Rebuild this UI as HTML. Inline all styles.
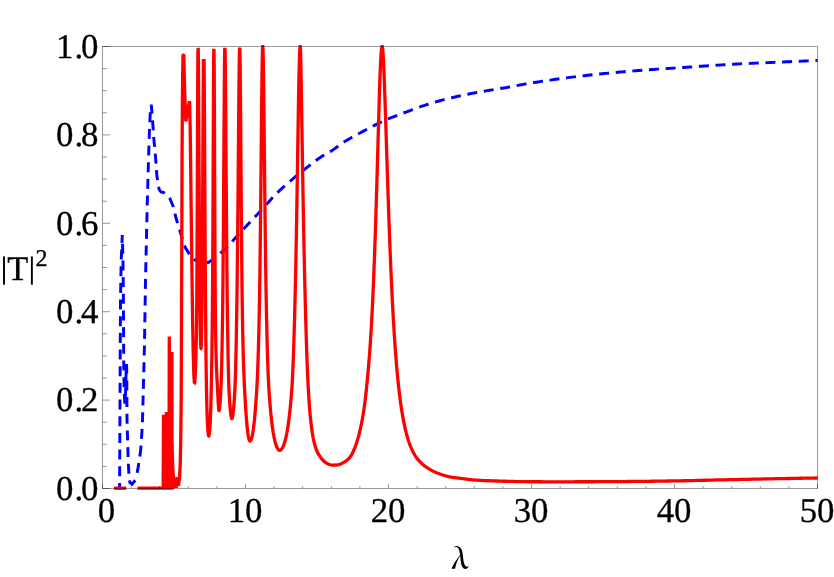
<!DOCTYPE html>
<html><head><meta charset="utf-8">
<style>
html,body{margin:0;padding:0;background:#fff;}
body{width:834px;height:577px;overflow:hidden;font-family:"Liberation Serif",serif;}
svg{display:block;will-change:transform;}
text{font-family:"Liberation Serif",serif;fill:#000;text-rendering:geometricPrecision;stroke:#000;stroke-width:0.3px;}
</style></head><body>
<svg width="834" height="577" viewBox="0 0 834 577">
<rect width="834" height="577" fill="#fff"/>
<g fill="none" stroke="#0000ff" stroke-width="2.95" stroke-linejoin="miter" stroke-miterlimit="3.25" stroke-dasharray="10 6.67">
<path d="M817.50,60.45 L816.00,60.51 L814.00,60.60 L812.00,60.69 L810.00,60.78 L808.00,60.86 L806.00,60.95 L804.00,61.04 L802.00,61.13 L800.00,61.22 L798.00,61.30 L796.00,61.39 L794.00,61.48 L792.00,61.57 L790.00,61.66 L788.00,61.75 L786.00,61.84 L784.00,61.93 L782.00,62.02 L780.00,62.10 L778.00,62.19 L776.00,62.28 L774.00,62.36 L772.00,62.45 L770.00,62.53 L768.00,62.62 L766.00,62.70 L764.00,62.79 L762.00,62.87 L760.00,62.96 L758.00,63.04 L756.00,63.13 L754.00,63.22 L752.00,63.31 L750.00,63.40 L748.00,63.49 L746.00,63.58 L744.00,63.67 L742.00,63.77 L740.00,63.87 L738.00,63.97 L736.00,64.07 L734.00,64.18 L732.00,64.28 L730.00,64.40 L728.00,64.51 L726.00,64.63 L724.00,64.75 L722.00,64.87 L720.00,64.99 L718.00,65.12 L716.00,65.25 L714.00,65.38 L712.00,65.52 L710.00,65.65 L708.00,65.79 L706.00,65.92 L704.00,66.06 L702.00,66.20 L700.00,66.34 L698.00,66.48 L696.00,66.61 L694.00,66.75 L692.00,66.89 L690.00,67.03 L688.00,67.17 L686.00,67.30 L684.00,67.44 L682.00,67.57 L680.00,67.71 L678.00,67.84 L676.00,67.97 L674.00,68.10 L672.00,68.23 L670.00,68.36 L668.00,68.49 L666.00,68.62 L664.00,68.75 L662.00,68.88 L660.00,69.02 L658.00,69.15 L656.00,69.28 L654.00,69.42 L652.00,69.55 L650.00,69.69 L648.00,69.83 L646.00,69.97 L644.00,70.11 L642.00,70.26 L640.00,70.41 L638.00,70.56 L636.00,70.71 L634.00,70.87 L632.00,71.02 L630.00,71.19 L628.00,71.35 L626.00,71.52 L624.00,71.69 L622.00,71.87 L620.00,72.04 L618.00,72.22 L616.00,72.41 L614.00,72.59 L612.00,72.78 L610.00,72.98 L608.00,73.17 L606.00,73.37 L604.00,73.57 L602.00,73.77 L600.00,73.98 L598.00,74.18 L596.00,74.40 L594.00,74.61 L592.00,74.83 L590.00,75.05 L588.00,75.27 L586.00,75.49 L584.00,75.72 L582.00,75.95 L580.00,76.18 L578.00,76.42 L576.00,76.66 L574.00,76.90 L572.00,77.15 L570.00,77.40 L568.00,77.66 L566.00,77.92 L564.00,78.18 L562.00,78.45 L560.00,78.72 L558.00,78.99 L556.00,79.27 L554.00,79.55 L552.00,79.84 L550.00,80.13 L548.00,80.42 L546.00,80.72 L544.00,81.02 L542.00,81.32 L540.00,81.63 L538.00,81.94 L536.00,82.25 L534.00,82.57 L532.00,82.89 L530.00,83.21 L528.00,83.54 L526.00,83.89 L524.00,84.26 L522.00,84.63 L520.00,85.01 L518.00,85.40 L516.00,85.78 L514.00,86.17 L512.00,86.55 L510.00,86.92 L508.00,87.28 L506.00,87.62 L504.00,87.96 L502.00,88.29 L500.00,88.61 L498.00,88.93 L496.00,89.24 L494.00,89.56 L492.00,89.88 L490.00,90.20 L488.00,90.53 L486.00,90.86 L484.00,91.21 L482.00,91.56 L480.00,91.93 L478.00,92.29 L476.00,92.66 L474.00,93.04 L472.00,93.42 L470.00,93.81 L468.00,94.21 L466.00,94.61 L464.00,95.02 L462.00,95.44 L460.00,95.87 L458.00,96.31 L456.00,96.76 L454.00,97.22 L452.00,97.69 L450.00,98.17 L448.00,98.66 L446.00,99.16 L444.00,99.67 L442.00,100.19 L440.00,100.72 L438.00,101.27 L436.00,101.83 L434.00,102.40 L432.00,102.98 L430.00,103.59 L428.00,104.22 L426.00,104.86 L424.00,105.53 L422.00,106.21 L420.00,106.91 L418.00,107.62 L416.00,108.33 L414.00,109.06 L412.00,109.79 L410.00,110.53 L408.00,111.27 L406.00,112.01 L404.00,112.75 L402.00,113.50 L400.00,114.25 L398.00,115.01 L396.00,115.78 L394.00,116.56 L392.00,117.36 L390.00,118.17 L388.00,119.00 L386.00,119.86 L384.00,120.73 L382.00,121.63 L380.00,122.57 L378.00,123.55 L376.00,124.57 L374.00,125.61 L372.00,126.67 L370.00,127.72 L368.00,128.76 L366.00,129.81 L364.00,130.85 L362.00,131.90 L360.00,132.95 L358.00,134.02 L356.00,135.10 L354.00,136.20 L352.00,137.32 L350.00,138.47 L348.00,139.64 L346.00,140.85 L344.00,142.10 L342.00,143.45 L340.00,144.86 L338.00,146.30 L336.00,147.74 L334.00,149.13 L332.00,150.45 L330.00,151.67 L328.00,152.84 L326.00,153.99 L324.00,155.15 L322.00,156.35 L320.00,157.64 L318.00,159.04 L316.00,160.51 L314.00,162.04 L312.00,163.60 L310.00,165.16 L308.00,166.70 L306.00,168.25 L304.00,169.82 L302.00,171.40 L300.00,172.99 L298.00,174.61 L296.00,176.26 L294.00,177.93 L292.00,179.61 L290.00,181.30 L288.00,183.01 L286.00,184.74 L284.00,186.51 L282.00,188.32 L280.00,190.17 L278.00,192.07 L276.00,194.05 L274.00,196.12 L272.00,198.26 L270.00,200.46 L268.00,202.69 L266.00,204.93 L264.00,207.17 L262.00,209.39 L260.00,211.57 L258.00,213.71 L256.00,215.84 L254.00,217.96 L252.00,220.08 L250.00,222.20 L248.00,224.31 L246.00,226.42 L244.00,228.54 L242.00,230.66 L240.00,232.83 L238.00,235.03 L236.00,237.26 L234.00,239.49 L232.00,241.70 L230.00,243.87 L228.00,245.98 L226.00,248.02 L224.00,249.96 L222.00,251.79 L220.00,253.54 L218.00,255.23 L216.00,256.85 L214.00,258.41 L212.00,259.91 L210.00,261.34 L208.75,262.20 L201.25,263.00" stroke-dashoffset="7.90"/><path d="M201.25,263.00 L195.00,260.00 L190.00,255.00 L185.00,247.00 L181.00,234.50 L176.25,218.75 L173.00,206.00 L170.00,198.75 L167.00,194.50 L164.40,192.80 L162.50,192.30 L161.00,192.00 L159.20,189.50 L158.00,184.00 L156.90,175.75 L155.60,158.00 L153.75,137.60 L152.20,115.00 L151.25,104.70 L150.30,112.00 L149.40,132.00 L148.50,160.00 L147.25,204.00 L145.60,276.00 L144.40,348.00 L142.50,420.00 L141.90,432.50 L140.60,451.00" stroke-dashoffset="1.61"/><path d="M140.60,451.00 L138.10,467.50 L135.90,479.40" stroke-dashoffset="4.50"/><path d="M135.90,479.40 L132.00,484.20 L130.00,482.60 L129.30,480.00 L128.90,474.00 L128.20,460.00 L127.00,420.00 L126.80,380.00 L126.60,364.00 L126.10,372.00 L125.60,392.00 L124.90,404.00 L124.20,392.00 L123.70,360.00 L123.40,300.00 L123.00,262.00 L122.30,235.00 L121.15,262.00 L120.50,300.00 L120.00,400.00 L119.60,488.30" stroke-dashoffset="15.62"/>
</g>
<g fill="none" stroke="#ff0000" stroke-width="3.3" stroke-linejoin="miter" stroke-miterlimit="3.25" stroke-linecap="butt">
<path d="M114.00,488.20 L126.30,488.20"/><path d="M137.50,488.20 L163.20,488.20 L163.50,414.80 L163.80,488.20 L166.10,488.20 L166.40,412.10 L166.70,488.20 L169.00,488.20 L169.30,336.50 L169.60,488.20 L171.95,488.20 L171.90,351.90 L172.00,440.00 L172.40,458.00 L172.90,470.00 L173.60,480.00 L174.50,486.50 L176.50,486.20 L176.95,477.00 L177.40,484.50 L178.60,484.40 L179.55,478.00 L180.15,466.00 L180.65,445.00 L181.20,400.00 L181.50,320.00 L181.80,240.00 L182.10,150.00 L182.40,100.00 L182.75,70.00 L182.90,61.00 L182.95,55.65 L182.99,55.46 L183.11,55.31 L183.28,55.22 L183.48,55.21 L183.66,55.28 L183.79,55.42 L183.85,55.61 L183.95,61.00 L184.15,70.00 L184.50,85.00 L185.20,105.00 L185.80,121.50 L189.35,101.30 L189.60,102.50 L190.20,128.00 L191.10,204.00 L192.00,276.00 L192.60,320.00 L193.20,352.00 L193.80,374.00 L194.40,383.50 L194.41,383.48 L194.42,383.48 L194.43,383.47 L194.44,383.46 L194.46,383.43 L194.49,383.38 L194.54,383.23 L194.68,382.49 L195.04,378.46 L195.27,374.32 L195.45,370.23 L195.61,365.95 L195.75,361.70 L195.87,357.68 L195.98,353.68 L196.09,349.37 L196.19,345.20 L196.29,340.77 L196.38,336.50 L196.45,332.31 L196.51,327.92 L196.56,323.68 L196.61,318.90 L196.65,314.67 L196.69,310.07 L196.73,305.08 L196.77,299.70 L196.80,295.40 L196.83,290.87 L196.86,286.10 L196.89,281.09 L196.92,275.84 L196.95,270.34 L196.98,264.60 L197.01,258.60 L197.03,254.47 L197.05,250.23 L197.07,245.88 L197.09,241.43 L197.11,236.87 L197.13,232.21 L197.15,227.45 L197.17,222.59 L197.19,217.64 L197.21,212.60 L197.23,207.48 L197.25,202.29 L197.27,197.02 L197.29,191.69 L197.31,186.30 L197.33,180.86 L197.35,175.39 L197.37,169.88 L197.39,164.36 L197.41,158.82 L197.43,153.29 L197.45,147.78 L197.47,142.30 L197.49,136.85 L197.51,131.47 L197.53,126.15 L197.55,120.91 L197.57,115.77 L197.59,110.74 L197.61,105.83 L197.63,101.06 L197.65,96.44 L197.67,91.99 L197.69,87.70 L197.71,83.61 L197.74,77.83 L197.77,72.52 L197.80,67.69 L197.83,63.38 L197.87,58.42 L197.91,54.38 L197.97,49.99 L197.98,49.44 L197.99,49.42 L198.22,49.42 L198.30,53.76 L198.35,57.86 L198.40,62.82 L198.44,67.39 L198.48,72.46 L198.51,76.57 L198.54,80.93 L198.57,85.51 L198.60,90.30 L198.63,95.28 L198.66,100.44 L198.69,105.75 L198.72,111.19 L198.75,116.75 L198.78,122.41 L198.81,128.15 L198.84,133.95 L198.87,139.79 L198.90,145.67 L198.93,151.55 L198.96,157.43 L198.99,163.30 L199.02,169.14 L199.05,174.94 L199.08,180.69 L199.11,186.38 L199.14,192.00 L199.17,197.54 L199.20,203.00 L199.23,208.37 L199.26,213.65 L199.29,218.82 L199.32,223.89 L199.35,228.85 L199.38,233.70 L199.41,238.44 L199.44,243.06 L199.47,247.57 L199.50,251.96 L199.53,256.24 L199.56,260.40 L199.59,264.44 L199.63,269.65 L199.67,274.65 L199.71,279.46 L199.75,284.06 L199.79,288.47 L199.83,292.69 L199.87,296.73 L199.92,301.51 L199.97,306.02 L200.02,310.25 L200.08,314.99 L200.14,319.37 L200.20,323.40 L200.27,327.68 L200.35,332.04 L200.44,336.28 L200.55,340.57 L200.69,344.66 L200.92,348.13 L200.96,348.32 L200.98,348.37 L200.99,348.38 L201.00,348.39 L201.01,348.38 L201.02,348.37 L201.04,348.31 L201.10,347.89 L201.31,343.72 L201.43,339.45 L201.52,335.33 L201.60,330.98 L201.67,326.61 L201.73,322.45 L201.79,317.88 L201.84,313.75 L201.89,309.31 L201.94,304.57 L201.98,300.54 L202.02,296.30 L202.06,291.85 L202.10,287.17 L202.14,282.28 L202.18,277.16 L202.22,271.81 L202.25,267.65 L202.28,263.35 L202.31,258.93 L202.34,254.37 L202.37,249.69 L202.40,244.88 L202.43,239.94 L202.46,234.87 L202.49,229.69 L202.52,224.38 L202.55,218.96 L202.58,213.44 L202.61,207.81 L202.64,202.08 L202.67,196.27 L202.70,190.38 L202.73,184.41 L202.75,180.40 L202.77,176.37 L202.79,172.32 L202.81,168.26 L202.83,164.18 L202.85,160.10 L202.87,156.01 L202.89,151.93 L202.91,147.85 L202.93,143.79 L202.95,139.74 L202.97,135.72 L203.00,129.73 L203.03,123.83 L203.06,118.03 L203.09,112.35 L203.12,106.81 L203.15,101.42 L203.18,96.21 L203.21,91.20 L203.24,86.40 L203.27,81.82 L203.30,77.49 L203.33,73.42 L203.37,68.41 L203.41,63.90 L203.45,60.64 L204.06,60.64 L204.11,64.71 L204.15,69.05 L204.19,73.82 L204.23,79.01 L204.26,83.16 L204.29,87.53 L204.32,92.09 L204.35,96.84 L204.38,101.77 L204.41,106.86 L204.44,112.09 L204.47,117.46 L204.50,122.96 L204.53,128.55 L204.56,134.24 L204.59,140.00 L204.62,145.83 L204.65,151.71 L204.68,157.63 L204.71,163.57 L204.74,169.52 L204.77,175.48 L204.80,181.42 L204.83,187.35 L204.86,193.24 L204.89,199.10 L204.92,204.91 L204.95,210.66 L204.98,216.35 L205.01,221.98 L205.04,227.53 L205.07,233.00 L205.10,238.39 L205.13,243.70 L205.16,248.91 L205.19,254.03 L205.22,259.05 L205.25,263.98 L205.28,268.80 L205.31,273.53 L205.34,278.15 L205.37,282.68 L205.40,287.10 L205.43,291.42 L205.46,295.64 L205.49,299.75 L205.52,303.77 L205.56,308.97 L205.60,314.00 L205.64,318.86 L205.68,323.56 L205.72,328.08 L205.76,332.45 L205.80,336.67 L205.84,340.73 L205.89,345.61 L205.94,350.26 L205.99,354.70 L206.04,358.94 L206.09,362.99 L206.15,367.60 L206.21,371.95 L206.27,376.06 L206.34,380.57 L206.41,384.79 L206.49,389.29 L206.57,393.45 L206.66,397.77 L206.76,402.15 L206.87,406.52 L206.99,410.78 L207.12,414.87 L207.27,419.00 L207.45,423.19 L207.67,427.35 L207.96,431.45 L208.42,435.20 L208.55,435.70 L208.61,435.85 L208.65,435.92 L208.68,435.95 L208.70,435.97 L208.72,435.98 L208.73,435.99 L208.74,435.99 L208.75,435.99 L208.76,435.99 L208.77,435.99 L208.79,435.98 L208.81,435.97 L208.83,435.95 L208.86,435.91 L208.90,435.84 L208.97,435.68 L209.12,435.12 L209.63,431.10 L209.94,426.97 L210.17,422.96 L210.37,418.74 L210.54,414.54 L210.69,410.33 L210.82,406.26 L210.94,402.13 L211.05,398.00 L211.15,393.94 L211.25,389.57 L211.34,385.37 L211.43,380.90 L211.51,376.68 L211.59,372.23 L211.66,368.14 L211.73,363.86 L211.80,359.39 L211.87,354.73 L211.93,350.57 L211.99,346.27 L212.05,341.82 L212.11,337.22 L212.16,333.13 L212.21,328.72 L212.26,323.97 L212.30,319.92 L212.34,315.63 L212.38,311.10 L212.42,306.31 L212.46,301.27 L212.50,295.96 L212.53,291.79 L212.56,287.47 L212.59,282.99 L212.62,278.34 L212.65,273.52 L212.68,268.54 L212.71,263.39 L212.74,258.06 L212.77,252.57 L212.80,246.91 L212.83,241.07 L212.86,235.07 L212.88,230.98 L212.90,226.82 L212.92,222.59 L212.94,218.29 L212.96,213.92 L212.98,209.50 L213.00,205.01 L213.02,200.46 L213.04,195.86 L213.06,191.21 L213.08,186.51 L213.10,181.77 L213.12,177.00 L213.14,172.19 L213.16,167.36 L213.18,162.51 L213.20,157.64 L213.22,152.77 L213.24,147.90 L213.26,143.04 L213.28,138.20 L213.30,133.39 L213.32,128.61 L213.34,123.87 L213.36,119.19 L213.38,114.58 L213.40,110.03 L213.42,105.57 L213.44,101.21 L213.46,96.95 L213.48,92.80 L213.50,88.78 L213.53,83.00 L213.56,77.55 L213.59,72.48 L213.62,67.79 L213.65,63.53 L213.69,58.54 L213.73,54.39 L213.78,50.48 L214.01,50.48 L214.02,50.51 L214.07,54.66 L214.11,59.03 L214.15,64.32 L214.18,68.86 L214.21,73.87 L214.24,79.32 L214.27,85.18 L214.29,89.29 L214.31,93.56 L214.33,97.96 L214.35,102.50 L214.37,107.15 L214.39,111.91 L214.41,116.77 L214.43,121.70 L214.45,126.70 L214.47,131.76 L214.49,136.87 L214.51,142.01 L214.53,147.17 L214.55,152.35 L214.57,157.53 L214.59,162.70 L214.61,167.85 L214.63,172.99 L214.65,178.09 L214.67,183.15 L214.69,188.17 L214.71,193.13 L214.73,198.04 L214.75,202.88 L214.77,207.66 L214.79,212.37 L214.81,217.00 L214.83,221.55 L214.85,226.02 L214.87,230.41 L214.89,234.71 L214.91,238.92 L214.93,243.05 L214.95,247.09 L214.98,252.97 L215.01,258.65 L215.04,264.12 L215.07,269.39 L215.10,274.45 L215.13,279.32 L215.16,283.98 L215.19,288.44 L215.22,292.72 L215.25,296.80 L215.29,301.96 L215.33,306.79 L215.37,311.32 L215.41,315.54 L215.46,320.41 L215.51,324.85 L215.56,328.87 L215.62,333.15 L215.69,337.45 L215.77,341.68 L215.86,346.03 L215.96,350.42 L216.07,354.78 L216.19,359.04 L216.32,363.17 L216.47,367.42 L216.63,371.44 L216.81,375.50 L217.01,379.58 L217.23,383.73 L217.46,387.86 L217.69,391.96 L217.90,395.98 L218.11,400.17 L218.33,404.23 L218.61,408.30 L218.86,410.37 L218.92,410.60 L218.95,410.66 L218.97,410.69 L218.98,410.70 L218.99,410.71 L219.00,410.71 L219.01,410.71 L219.02,410.70 L219.03,410.70 L219.05,410.69 L219.07,410.67 L219.10,410.63 L219.14,410.55 L219.22,410.32 L219.43,409.28 L219.87,405.30 L220.18,401.28 L220.45,397.15 L220.70,393.00 L220.92,388.90 L221.10,384.70 L221.25,380.57 L221.38,376.50 L221.50,372.34 L221.61,368.15 L221.71,364.03 L221.81,359.61 L221.90,355.35 L221.98,351.34 L222.06,347.13 L222.14,342.70 L222.21,338.65 L222.28,334.43 L222.35,330.04 L222.42,325.49 L222.48,321.47 L222.54,317.29 L222.60,312.88 L222.66,308.22 L222.71,304.13 L222.76,299.86 L222.81,295.39 L222.86,290.73 L222.91,285.87 L222.95,281.83 L222.99,277.66 L223.03,273.36 L223.07,268.92 L223.11,264.34 L223.15,259.63 L223.19,254.78 L223.23,249.79 L223.27,244.66 L223.31,239.40 L223.34,235.37 L223.37,231.26 L223.40,227.08 L223.43,222.84 L223.46,218.52 L223.49,214.13 L223.52,209.68 L223.55,205.17 L223.58,200.60 L223.61,195.98 L223.64,191.30 L223.67,186.58 L223.70,181.81 L223.73,177.01 L223.76,172.18 L223.79,167.32 L223.82,162.45 L223.85,157.56 L223.88,152.66 L223.91,147.77 L223.94,142.89 L223.97,138.03 L224.00,133.20 L224.03,128.40 L224.06,123.65 L224.09,118.95 L224.12,114.32 L224.15,109.77 L224.18,105.30 L224.21,100.93 L224.24,96.67 L224.27,92.52 L224.30,88.50 L224.34,83.35 L224.38,78.47 L224.42,73.88 L224.46,69.60 L224.51,64.71 L224.56,60.36 L224.62,55.89 L224.69,51.76 L224.75,49.42 L225.05,49.42 L225.06,49.44 L225.15,53.62 L225.22,58.06 L225.28,62.65 L225.33,66.98 L225.38,71.74 L225.42,75.85 L225.46,80.18 L225.50,84.74 L225.54,89.51 L225.58,94.45 L225.62,99.56 L225.66,104.81 L225.69,108.84 L225.72,112.93 L225.75,117.07 L225.78,121.27 L225.81,125.50 L225.84,129.78 L225.87,134.08 L225.90,138.40 L225.93,142.75 L225.96,147.10 L225.99,151.45 L226.02,155.81 L226.05,160.16 L226.08,164.51 L226.11,168.83 L226.14,173.14 L226.17,177.43 L226.20,181.69 L226.23,185.92 L226.26,190.12 L226.29,194.29 L226.32,198.41 L226.35,202.50 L226.38,206.54 L226.42,211.86 L226.46,217.09 L226.50,222.24 L226.54,227.30 L226.58,232.27 L226.62,237.14 L226.66,241.91 L226.70,246.59 L226.74,251.17 L226.78,255.64 L226.82,260.02 L226.86,264.31 L226.90,268.49 L226.94,272.57 L226.99,277.54 L227.04,282.36 L227.09,287.03 L227.14,291.55 L227.19,295.93 L227.24,300.18 L227.29,304.28 L227.35,309.03 L227.41,313.59 L227.47,317.97 L227.53,322.19 L227.59,326.33 L227.65,330.38 L227.72,334.99 L227.79,339.46 L227.86,343.78 L227.93,347.94 L228.00,351.94 L228.08,356.31 L228.16,360.45 L228.25,364.83 L228.34,368.91 L228.44,373.12 L228.55,377.33 L228.67,381.44 L228.81,385.60 L228.98,389.78 L229.20,393.90 L229.44,397.90 L229.71,402.03 L230.01,406.12 L230.36,410.21 L230.80,414.24 L231.38,417.63 L231.57,418.24 L231.67,418.46 L231.73,418.55 L231.77,418.60 L231.80,418.62 L231.83,418.64 L231.85,418.65 L231.87,418.66 L231.89,418.66 L231.91,418.66 L231.93,418.66 L231.95,418.65 L231.97,418.64 L232.00,418.62 L232.03,418.60 L232.07,418.55 L232.13,418.45 L232.23,418.24 L232.43,417.59 L233.06,413.76 L233.49,409.72 L233.84,405.63 L234.14,401.60 L234.41,397.60 L234.67,393.46 L234.90,389.40 L235.09,385.16 L235.25,380.93 L235.39,376.72 L235.51,372.72 L235.63,368.35 L235.74,364.03 L235.84,359.83 L235.93,355.83 L236.02,351.63 L236.11,347.22 L236.19,343.14 L236.27,338.91 L236.35,334.54 L236.43,330.04 L236.50,326.01 L236.57,321.89 L236.64,317.68 L236.71,313.31 L236.78,308.78 L236.84,304.76 L236.90,300.60 L236.96,296.32 L237.02,291.89 L237.08,287.33 L237.14,282.62 L237.19,278.58 L237.24,274.45 L237.29,270.21 L237.34,265.87 L237.39,261.42 L237.44,256.86 L237.49,252.21 L237.54,247.44 L237.59,242.57 L237.64,237.60 L237.68,233.55 L237.72,229.43 L237.76,225.25 L237.80,221.00 L237.84,216.70 L237.88,212.33 L237.92,207.91 L237.96,203.43 L238.00,198.90 L238.04,194.32 L238.08,189.69 L238.12,185.02 L238.16,180.31 L238.20,175.57 L238.24,170.79 L238.28,165.99 L238.32,161.17 L238.36,156.34 L238.40,151.50 L238.44,146.65 L238.48,141.82 L238.52,137.00 L238.56,132.20 L238.60,127.43 L238.64,122.70 L238.68,118.02 L238.72,113.39 L238.76,108.84 L238.80,104.36 L238.84,99.97 L238.88,95.68 L238.92,91.50 L238.96,87.44 L239.01,82.55 L239.06,77.89 L239.11,73.47 L239.16,69.33 L239.22,64.75 L239.28,60.61 L239.35,56.40 L239.44,52.02 L239.52,49.24 L239.87,49.24 L239.88,49.28 L239.98,53.32 L240.06,57.84 L240.12,61.97 L240.18,66.70 L240.23,71.09 L240.28,75.85 L240.32,79.92 L240.36,84.20 L240.40,88.68 L240.44,93.35 L240.48,98.18 L240.52,103.17 L240.56,108.30 L240.60,113.55 L240.63,117.56 L240.66,121.62 L240.69,125.72 L240.72,129.87 L240.75,134.05 L240.78,138.26 L240.81,142.48 L240.84,146.73 L240.87,150.98 L240.90,155.23 L240.93,159.49 L240.96,163.74 L240.99,167.97 L241.02,172.19 L241.05,176.40 L241.08,180.57 L241.11,184.72 L241.14,188.84 L241.17,192.93 L241.20,196.97 L241.23,200.98 L241.27,206.26 L241.31,211.45 L241.35,216.56 L241.39,221.57 L241.43,226.49 L241.47,231.31 L241.51,236.04 L241.55,240.65 L241.59,245.17 L241.63,249.58 L241.67,253.88 L241.71,258.08 L241.75,262.17 L241.80,267.13 L241.85,271.93 L241.90,276.56 L241.95,281.02 L242.00,285.33 L242.05,289.47 L242.11,294.24 L242.17,298.79 L242.23,303.12 L242.29,307.24 L242.36,311.80 L242.43,316.08 L242.50,320.10 L242.58,324.44 L242.66,328.58 L242.75,333.00 L242.84,337.20 L242.94,341.60 L243.04,345.77 L243.15,350.09 L243.26,354.15 L243.38,358.32 L243.51,362.54 L243.65,366.79 L243.80,371.03 L243.96,375.22 L244.13,379.35 L244.31,383.41 L244.51,387.56 L244.72,391.59 L244.95,395.76 L245.18,399.81 L245.42,403.87 L245.67,407.92 L245.94,412.03 L246.23,416.14 L246.54,420.16 L246.89,424.24 L247.28,428.22 L247.75,432.26 L248.35,436.26 L249.06,439.42 L249.37,440.27 L249.54,440.60 L249.65,440.76 L249.73,440.85 L249.79,440.90 L249.84,440.94 L249.89,440.96 L249.93,440.98 L249.97,440.98 L250.01,440.98 L250.07,440.98 L250.13,440.97 L250.20,440.94 L250.28,440.90 L250.37,440.83 L250.48,440.73 L250.63,440.55 L250.84,440.22 L251.18,439.48 L251.82,437.47 L252.66,433.53 L253.29,429.56 L253.81,425.57 L254.26,421.57 L254.66,417.56 L255.03,413.48 L255.37,409.39 L255.68,405.40 L255.98,401.30 L256.26,397.27 L256.53,393.22 L256.79,389.07 L257.02,384.95 L257.23,380.78 L257.42,376.63 L257.59,372.61 L257.75,368.53 L257.90,364.43 L258.04,360.35 L258.17,356.33 L258.30,352.08 L258.42,347.94 L258.54,343.58 L258.65,339.39 L258.76,335.00 L258.86,330.83 L258.96,326.48 L259.05,322.42 L259.14,318.20 L259.23,313.76 L259.31,309.62 L259.39,305.29 L259.47,300.76 L259.54,296.63 L259.61,292.34 L259.68,287.90 L259.75,283.28 L259.81,279.20 L259.87,274.99 L259.93,270.65 L259.99,266.18 L260.05,261.59 L260.11,256.88 L260.16,252.85 L260.21,248.73 L260.26,244.52 L260.31,240.23 L260.36,235.85 L260.41,231.38 L260.46,226.83 L260.51,222.20 L260.56,217.50 L260.61,212.71 L260.66,207.85 L260.71,202.93 L260.76,197.93 L260.80,193.90 L260.84,189.82 L260.88,185.72 L260.92,181.58 L260.96,177.41 L261.00,173.23 L261.04,169.02 L261.08,164.79 L261.12,160.56 L261.16,156.32 L261.20,152.07 L261.24,147.83 L261.28,143.59 L261.32,139.37 L261.36,135.17 L261.40,130.99 L261.44,126.84 L261.48,122.72 L261.52,118.65 L261.56,114.63 L261.61,109.68 L261.66,104.84 L261.71,100.10 L261.76,95.49 L261.81,91.02 L261.86,86.71 L261.91,82.56 L261.97,77.81 L262.03,73.34 L262.09,69.17 L262.16,64.69 L262.23,60.68 L262.31,56.66 L262.41,52.56 L262.56,48.38 L262.69,46.69 L262.71,46.59 L262.79,46.59 L262.83,46.83 L263.05,51.11 L263.17,55.49 L263.26,59.67 L263.34,63.99 L263.41,68.21 L263.48,72.82 L263.54,77.05 L263.60,81.53 L263.66,86.24 L263.71,90.32 L263.76,94.53 L263.81,98.86 L263.86,103.30 L263.91,107.84 L263.96,112.47 L264.01,117.17 L264.06,121.94 L264.11,126.76 L264.16,131.62 L264.21,136.53 L264.26,141.45 L264.31,146.40 L264.36,151.35 L264.41,156.31 L264.46,161.25 L264.51,166.19 L264.56,171.10 L264.61,175.99 L264.66,180.84 L264.71,185.65 L264.76,190.43 L264.81,195.15 L264.86,199.83 L264.91,204.45 L264.96,209.01 L265.01,213.52 L265.06,217.96 L265.11,222.33 L265.16,226.64 L265.21,230.87 L265.26,235.04 L265.31,239.14 L265.36,243.16 L265.42,247.89 L265.48,252.51 L265.54,257.03 L265.60,261.44 L265.66,265.75 L265.72,269.95 L265.78,274.04 L265.85,278.68 L265.92,283.18 L265.99,287.55 L266.06,291.77 L266.13,295.87 L266.21,300.39 L266.29,304.74 L266.37,308.92 L266.45,312.95 L266.54,317.30 L266.63,321.47 L266.72,325.50 L266.82,329.83 L266.92,334.02 L267.02,338.06 L267.13,342.33 L267.24,346.43 L267.36,350.70 L267.48,354.76 L267.61,358.94 L267.75,363.18 L267.90,367.44 L268.06,371.68 L268.23,375.83 L268.41,379.87 L268.61,383.93 L268.84,388.08 L269.10,392.14 L269.39,396.21 L269.70,400.32 L270.02,404.31 L270.37,408.40 L270.74,412.43 L271.14,416.45 L271.58,420.50 L272.06,424.51 L272.60,428.54 L273.21,432.54 L273.91,436.49 L274.75,440.43 L275.81,444.32 L276.93,447.29 L277.63,448.62 L278.11,449.31 L278.47,449.71 L278.75,449.95 L278.98,450.10 L279.18,450.20 L279.36,450.26 L279.52,450.30 L279.68,450.31 L279.87,450.30 L280.07,450.27 L280.29,450.20 L280.53,450.09 L280.81,449.91 L281.14,449.65 L281.56,449.21 L282.11,448.47 L282.89,447.10 L284.08,444.22 L285.25,440.35 L286.18,436.45 L286.96,432.52 L287.64,428.55 L288.24,424.57 L288.78,420.58 L289.27,416.59 L289.72,412.60 L290.14,408.57 L290.53,404.56 L290.90,400.51 L291.25,396.44 L291.58,392.40 L291.88,388.30 L292.14,384.14 L292.37,379.99 L292.58,375.80 L292.77,371.68 L292.95,367.47 L293.12,363.23 L293.28,359.01 L293.43,354.85 L293.57,350.78 L293.71,346.56 L293.84,342.50 L293.97,338.31 L294.10,333.99 L294.22,329.92 L294.34,325.76 L294.46,321.52 L294.58,317.21 L294.69,313.14 L294.80,308.94 L294.91,304.62 L295.01,300.58 L295.11,296.44 L295.21,292.18 L295.31,287.82 L295.40,283.79 L295.49,279.67 L295.58,275.47 L295.67,271.16 L295.76,266.77 L295.85,262.28 L295.93,258.21 L296.01,254.07 L296.09,249.85 L296.17,245.56 L296.25,241.20 L296.33,236.76 L296.41,232.26 L296.49,227.69 L296.56,223.63 L296.63,219.52 L296.70,215.37 L296.77,211.17 L296.84,206.92 L296.91,202.63 L296.98,198.30 L297.05,193.93 L297.12,189.53 L297.19,185.10 L297.26,180.63 L297.33,176.15 L297.40,171.64 L297.47,167.11 L297.54,162.57 L297.61,158.03 L297.68,153.48 L297.75,148.93 L297.82,144.39 L297.89,139.87 L297.96,135.36 L298.03,130.88 L298.10,126.44 L298.17,122.03 L298.24,117.68 L298.31,113.38 L298.38,109.14 L298.45,104.97 L298.52,100.91 L298.60,96.40 L298.68,92.02 L298.76,87.80 L298.84,83.72 L298.93,79.33 L299.02,75.15 L299.12,70.76 L299.22,66.67 L299.33,62.52 L299.45,58.46 L299.59,54.37 L299.77,50.26 L300.05,46.78 L300.09,46.60 L300.10,46.59 L300.20,46.59 L300.21,46.59 L300.26,46.82 L300.53,50.88 L300.67,55.09 L300.78,59.44 L300.87,63.61 L300.95,67.75 L301.03,72.22 L301.10,76.37 L301.17,80.69 L301.24,85.13 L301.31,89.63 L301.38,94.16 L301.45,98.65 L301.52,103.06 L301.59,107.34 L301.66,111.53 L301.73,115.76 L301.80,120.02 L301.87,124.30 L301.94,128.61 L302.01,132.93 L302.08,137.25 L302.15,141.58 L302.22,145.91 L302.29,150.22 L302.36,154.53 L302.43,158.81 L302.50,163.08 L302.57,167.33 L302.64,171.55 L302.71,175.75 L302.78,179.91 L302.85,184.04 L302.92,188.14 L302.99,192.20 L303.06,196.23 L303.14,200.78 L303.22,205.28 L303.30,209.73 L303.38,214.12 L303.46,218.46 L303.54,222.75 L303.62,226.98 L303.70,231.15 L303.78,235.27 L303.86,239.33 L303.94,243.33 L304.03,247.77 L304.12,252.14 L304.21,256.44 L304.30,260.67 L304.39,264.83 L304.48,268.93 L304.57,272.96 L304.67,277.36 L304.77,281.68 L304.87,285.92 L304.97,290.08 L305.07,294.17 L305.17,298.19 L305.28,302.52 L305.39,306.77 L305.50,310.94 L305.61,315.02 L305.72,319.02 L305.84,323.30 L305.96,327.47 L306.08,331.55 L306.21,335.85 L306.34,340.03 L306.47,344.09 L306.61,348.32 L306.75,352.41 L306.90,356.63 L307.05,360.69 L307.21,364.84 L307.38,369.06 L307.55,373.07 L307.73,377.12 L307.92,381.16 L308.12,385.17 L308.34,389.31 L308.57,393.34 L308.82,397.42 L309.09,401.50 L309.38,405.54 L309.70,409.64 L310.05,413.73 L310.43,417.76 L310.85,421.77 L311.32,425.77 L311.85,429.76 L312.46,433.77 L313.16,437.73 L313.99,441.68 L314.99,445.59 L316.23,449.39 L317.83,453.06 L319.65,456.17 L321.96,459.19 L323.96,461.24 L325.68,462.62 L327.20,463.55 L328.73,464.25 L330.33,464.75 L332.01,465.06 L333.80,465.16 L336.39,465.00 L338.82,464.55 L341.08,463.83 L343.18,462.87 L345.38,461.49 L347.84,459.55 L349.44,457.92 L350.85,456.06 L352.25,453.65 L353.91,450.00 L355.38,446.26 L356.69,442.47 L357.87,438.63 L358.94,434.74 L359.91,430.84 L360.80,426.90 L361.61,422.97 L362.36,419.01 L363.05,415.06 L363.69,411.09 L364.28,407.11 L364.82,403.08 L365.32,399.03 L365.78,395.04 L366.22,390.98 L366.64,386.90 L367.04,382.85 L367.42,378.86 L367.79,374.87 L368.16,370.82 L368.52,366.78 L368.87,362.71 L369.20,358.70 L369.52,354.60 L369.82,350.52 L370.10,346.47 L370.37,342.40 L370.63,338.33 L370.88,334.27 L371.12,330.24 L371.36,326.07 L371.59,321.94 L371.81,317.86 L372.02,313.85 L372.23,309.72 L372.43,305.67 L372.63,301.50 L372.82,297.44 L373.01,293.26 L373.19,289.20 L373.37,285.04 L373.54,281.02 L373.71,276.90 L373.88,272.68 L374.04,268.63 L374.20,264.49 L374.36,260.26 L374.51,256.22 L374.66,252.10 L374.81,247.90 L374.96,243.63 L375.10,239.57 L375.24,235.44 L375.38,231.25 L375.52,226.99 L375.65,222.98 L375.78,218.91 L375.91,214.79 L376.04,210.62 L376.17,206.39 L376.30,202.12 L376.43,197.79 L376.55,193.76 L376.67,189.69 L376.79,185.59 L376.91,181.46 L377.03,177.29 L377.15,173.10 L377.27,168.88 L377.39,164.64 L377.51,160.39 L377.63,156.12 L377.75,151.84 L377.87,147.56 L377.99,143.27 L378.11,138.99 L378.23,134.72 L378.35,130.46 L378.47,126.23 L378.59,122.02 L378.71,117.85 L378.83,113.71 L378.95,109.63 L379.07,105.59 L379.20,101.29 L379.33,97.08 L379.46,92.96 L379.59,88.95 L379.73,84.76 L379.87,80.73 L380.02,76.59 L380.18,72.40 L380.35,68.22 L380.53,64.15 L380.73,60.05 L380.96,55.96 L381.24,51.92 L381.66,47.93 L381.86,46.92 L381.94,46.69 L381.99,46.59 L382.20,46.59 L382.21,46.59 L382.26,46.69 L382.35,46.97 L382.59,48.30 L382.98,52.33 L383.25,56.42 L383.47,60.46 L383.67,64.65 L383.85,68.79 L384.02,72.99 L384.18,77.15 L384.33,81.22 L384.48,85.41 L384.62,89.41 L384.76,93.48 L384.90,97.60 L385.04,101.73 L385.18,105.87 L385.32,110.01 L385.46,114.19 L385.60,118.41 L385.74,122.68 L385.88,126.99 L386.01,131.01 L386.14,135.06 L386.27,139.12 L386.40,143.18 L386.53,147.26 L386.66,151.33 L386.79,155.41 L386.92,159.47 L387.05,163.53 L387.18,167.58 L387.31,171.61 L387.44,175.62 L387.58,179.91 L387.72,184.18 L387.86,188.42 L388.00,192.62 L388.14,196.79 L388.28,200.92 L388.42,205.01 L388.56,209.07 L388.70,213.07 L388.85,217.32 L389.00,221.52 L389.15,225.66 L389.30,229.74 L389.45,233.78 L389.61,238.01 L389.77,242.19 L389.93,246.30 L390.09,250.34 L390.26,254.57 L390.43,258.72 L390.60,262.80 L390.77,266.81 L390.95,270.97 L391.13,275.05 L391.31,279.05 L391.50,283.18 L391.69,287.23 L391.89,291.40 L392.09,295.47 L392.30,299.65 L392.51,303.72 L392.73,307.88 L392.95,311.94 L393.18,316.07 L393.41,320.09 L393.65,324.17 L393.90,328.30 L394.15,332.31 L394.41,336.36 L394.68,340.43 L394.96,344.52 L395.25,348.60 L395.55,352.67 L395.86,356.72 L396.18,360.73 L396.52,364.83 L396.87,368.87 L397.24,372.95 L397.62,376.95 L398.02,380.97 L398.44,384.98 L398.88,388.97 L399.35,393.01 L399.84,396.98 L400.36,400.95 L400.92,404.97 L401.51,408.93 L402.15,412.93 L402.83,416.89 L403.57,420.87 L404.37,424.83 L405.24,428.78 L406.19,432.70 L407.23,436.57 L408.39,440.43 L409.69,444.23 L411.15,447.95 L412.83,451.59 L414.79,455.09 L417.05,458.39 L419.63,461.45 L422.51,464.24 L425.64,466.74 L428.98,468.95 L432.50,470.89 L436.50,472.71 L440.50,474.25 L444.50,475.53 L448.50,476.56 L452.50,477.34 L456.50,477.96 L460.50,478.48 L464.50,478.97 L468.50,479.42 L472.50,479.81 L476.50,480.12 L480.50,480.37 L484.50,480.57 L488.50,480.74 L492.50,480.88 L496.50,481.01 L500.50,481.12 L504.50,481.23 L508.50,481.33 L512.50,481.43 L516.50,481.53 L520.50,481.61 L524.50,481.68 L528.50,481.73 L532.50,481.75 L536.50,481.76 L540.50,481.77 L544.50,481.78 L548.50,481.78 L552.50,481.79 L556.50,481.79 L560.50,481.79 L564.50,481.78 L568.50,481.78 L572.50,481.78 L576.50,481.77 L580.50,481.77 L584.50,481.76 L588.50,481.75 L592.50,481.74 L596.50,481.72 L600.50,481.70 L604.50,481.68 L608.50,481.66 L612.50,481.63 L616.50,481.60 L620.50,481.56 L624.50,481.53 L628.50,481.49 L632.50,481.46 L636.50,481.42 L640.50,481.38 L644.50,481.33 L648.50,481.29 L652.50,481.24 L656.50,481.19 L660.50,481.13 L664.50,481.08 L668.50,481.02 L672.50,480.96 L676.50,480.89 L680.50,480.82 L684.50,480.74 L688.50,480.65 L692.50,480.56 L696.50,480.46 L700.50,480.37 L704.50,480.26 L708.50,480.16 L712.50,480.06 L716.50,479.96 L720.50,479.87 L724.50,479.78 L728.50,479.70 L732.50,479.61 L736.50,479.53 L740.50,479.45 L744.50,479.36 L748.50,479.28 L752.50,479.20 L756.50,479.12 L760.50,479.04 L764.50,478.96 L768.50,478.88 L772.50,478.80 L776.50,478.72 L780.50,478.65 L784.50,478.57 L788.50,478.50 L792.50,478.42 L796.50,478.35 L800.50,478.27 L804.50,478.20 L808.50,478.13 L812.50,478.06 L816.50,478.00 L817.50,477.98"/>
</g>
<g fill="none" stroke="#000" stroke-opacity="0.40" stroke-width="1">
<rect x="102.5" y="46.5" width="715" height="442"/>
<path d="M102.5,488.5H110.0"/><path d="M102.5,466.4H107.0"/><path d="M102.5,444.3H107.0"/><path d="M102.5,422.2H107.0"/><path d="M102.5,400.1H110.0"/><path d="M102.5,378.0H107.0"/><path d="M102.5,355.9H107.0"/><path d="M102.5,333.8H107.0"/><path d="M102.5,311.7H110.0"/><path d="M102.5,289.6H107.0"/><path d="M102.5,267.5H107.0"/><path d="M102.5,245.4H107.0"/><path d="M102.5,223.3H110.0"/><path d="M102.5,201.2H107.0"/><path d="M102.5,179.1H107.0"/><path d="M102.5,157.0H107.0"/><path d="M102.5,134.9H110.0"/><path d="M102.5,112.8H107.0"/><path d="M102.5,90.7H107.0"/><path d="M102.5,68.6H107.0"/><path d="M102.5,46.5H110.0"/><path d="M102.5,488.5V483.9"/><path d="M131.1,488.5V486.1"/><path d="M159.7,488.5V486.1"/><path d="M188.3,488.5V486.1"/><path d="M216.9,488.5V486.1"/><path d="M245.5,488.5V483.9"/><path d="M274.1,488.5V486.1"/><path d="M302.7,488.5V486.1"/><path d="M331.3,488.5V486.1"/><path d="M359.9,488.5V486.1"/><path d="M388.5,488.5V483.9"/><path d="M417.1,488.5V486.1"/><path d="M445.7,488.5V486.1"/><path d="M474.3,488.5V486.1"/><path d="M502.9,488.5V486.1"/><path d="M531.5,488.5V483.9"/><path d="M560.1,488.5V486.1"/><path d="M588.7,488.5V486.1"/><path d="M617.3,488.5V486.1"/><path d="M645.9,488.5V486.1"/><path d="M674.5,488.5V483.9"/><path d="M703.1,488.5V486.1"/><path d="M731.7,488.5V486.1"/><path d="M760.3,488.5V486.1"/><path d="M788.9,488.5V486.1"/><path d="M817.5,488.5V483.9"/>
</g>
<g font-size="34.8px"><text x="97.5" y="499.70" text-anchor="end" dx="1 1 -2">0.0</text><text x="97.5" y="411.30" text-anchor="end" dx="1 1 -2">0.2</text><text x="97.5" y="322.90" text-anchor="end" dx="1 1 -2">0.4</text><text x="97.5" y="234.50" text-anchor="end" dx="1 1 -2">0.6</text><text x="97.5" y="146.10" text-anchor="end" dx="1 1 -2">0.8</text><text x="97.5" y="57.70" text-anchor="end" dx="1 1 -2">1.0</text><text x="106.45" y="522.2" text-anchor="middle">0</text><text x="245.10" y="522.2" text-anchor="middle">10</text><text x="388.10" y="522.2" text-anchor="middle">20</text><text x="531.10" y="522.2" text-anchor="middle">30</text><text x="674.10" y="522.2" text-anchor="middle">40</text><text x="817.10" y="522.2" text-anchor="middle">50</text></g>
<rect x="3.03" y="256.4" width="1.9" height="28.3" fill="#000"/><rect x="30.92" y="256.4" width="1.9" height="28.3" fill="#000"/>
<text x="7.2" y="279.7" font-size="34.4px">T</text><text x="35.6" y="265.7" font-size="24px">2</text>
<g fill="#000" stroke="none">
<path d="M454.2,547.3 C455,546.2 456,545.9 456.8,545.95 C458.5,546 460.3,547.3 461.3,549 C462.3,550.8 462.7,553.5 463,556.5 C463.3,559.5 463.6,562 464.2,563.6 C464.9,565.4 465.8,566.6 466.8,566.85 C467.5,566.9 468,566.6 468.45,566.1 L468.65,566.5 C468,567.6 467.2,568.6 465.9,568.9 C464.6,569.2 463.3,568.5 462.4,567 C461.5,565.5 461,563.5 460.7,561 C460.4,558.5 460.3,556.5 460,554.5 C459.7,552 459.3,550 458.4,548.6 C457.6,547.5 456.6,547 455.8,547.1 C455.2,547.2 454.7,547.5 454.35,547.9 Z"/>
<path d="M460.1,554.9 L457.45,558.4 L454.6,562.6 L452.07,567.3 L451.5,568.75 L455.15,568.75 L455.6,565.9 L457,561.7 L458.85,557.96 L460.4,555.6 Z"/>
</g>
</svg>
</body></html>
